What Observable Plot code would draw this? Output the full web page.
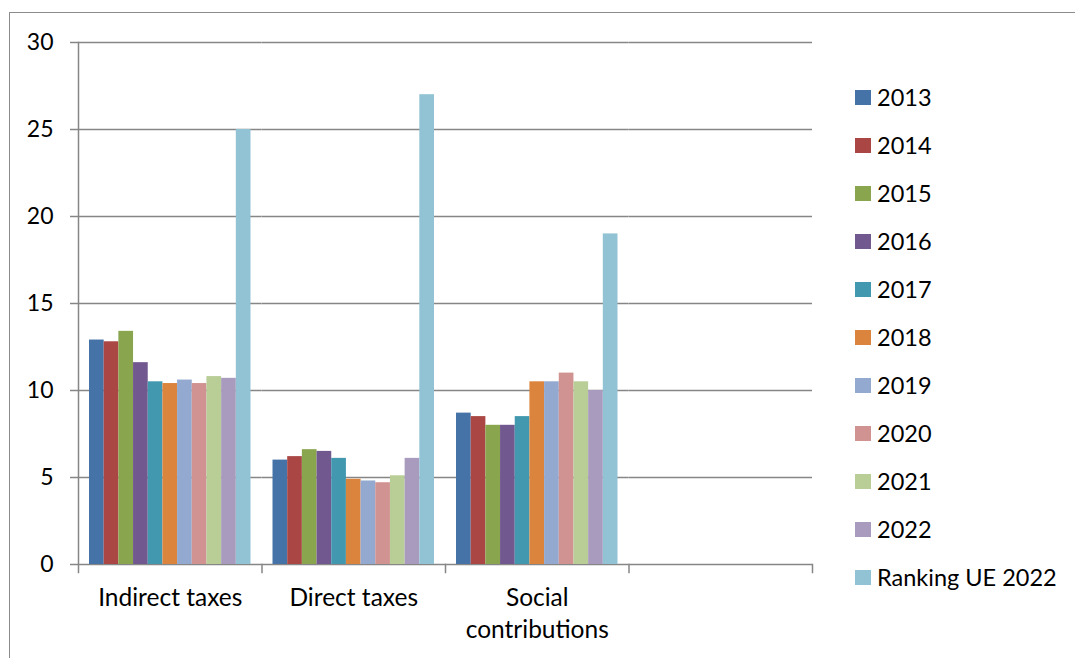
<!DOCTYPE html>
<html><head><meta charset="utf-8">
<script src="https://cdn.jsdelivr.net/npm/d3@7"></script>
<script src="https://cdn.jsdelivr.net/npm/@observablehq/plot@0.6"></script>
<style>
body{margin:0;background:#fff;}
#wrap{position:relative;width:1075px;height:658px;overflow:hidden;font-family:Lato, sans-serif;background:#fff;}
#border{position:absolute;left:9px;top:12px;width:1100px;height:700px;border-left:1.5px solid #8c8c8c;border-top:1.5px solid #8c8c8c;}
#chart{position:absolute;left:0;top:0;}
#legend{position:absolute;left:855px;top:0;}
.item{position:absolute;left:0;height:30px;display:flex;align-items:center;white-space:nowrap;font-size:23.5px;color:#000;}
.sw{width:16px;height:15px;margin-right:6px;flex:none;}
</style></head>
<body><div id="wrap"><div id="border"></div><div id="chart"></div><div id="legend"></div></div>
<script>
const categories = ["Indirect taxes", "Direct taxes", "Social contributions"];
const slots = [...categories, ""];
const series = ["2013","2014","2015","2016","2017","2018","2019","2020","2021","2022","Ranking UE 2022"];
const colors = ["#4572a7","#aa4643","#89a54e","#71588f","#4198af","#db843d","#93a9cf","#d19392","#b9cd96","#a99bbd","#92c3d5"];
const indirectTaxes = [12.9, 12.8, 13.4, 11.6, 10.5, 10.4, 10.6, 10.4, 10.8, 10.7, 25];
const directTaxes = [6.0, 6.2, 6.6, 6.5, 6.1, 4.9, 4.8, 4.7, 5.1, 6.1, 27];
const socialContributions = [8.7, 8.5, 8.0, 8.0, 8.5, 10.5, 10.5, 11.0, 10.5, 10.0, 19];
const yTicks = [0, 5, 10, 15, 20, 25, 30];
const categoryLabels = {"Indirect taxes": "Indirect taxes", "Direct taxes": "Direct taxes", "Social contributions": "Social\ncontributions", "": ""};

const valuesByCategory = [indirectTaxes, directTaxes, socialContributions];
const data = categories.flatMap((c, i) => series.map((s, j) => ({category: c, series: s, value: valuesByCategory[i][j]})));
const grid = slots.flatMap(c => yTicks.map(v => ({category: c, v})));

const GRID = "#868686";
const plot = Plot.plot({
  width: 830, height: 658,
  marginLeft: 78, marginRight: 18, marginTop: 42, marginBottom: 94,
  style: {fontFamily: "Lato, sans-serif", fontSize: "23px", color: "#000", background: "transparent"},
  fx: {domain: slots, padding: 0, round: false},
  x: {domain: series, paddingInner: 0, paddingOuter: 0.75, round: false, axis: null},
  y: {domain: [0, 30]},
  color: {domain: series, range: colors},
  marks: [
    Plot.ruleY(grid, {fx: "category", y: "v", stroke: GRID, strokeWidth: 1.5}),
    Plot.barY(data, {fx: "category", x: "series", y: "value", fill: "series"}),
    Plot.frame({anchor: "right", stroke: GRID, strokeWidth: 1.5, insetTop: 522, insetBottom: -8}),
    Plot.frame({anchor: "left", facet: "super", stroke: GRID, strokeWidth: 1.5, insetBottom: -8}),
    Plot.axisY({ticks: yTicks, tickSize: 8, tickPadding: 17, fontSize: 23, stroke: GRID, strokeWidth: 1.5, color: "#000", label: null}),
    Plot.axisFx({anchor: "bottom", tickSize: 0, tickPadding: 18, fontSize: 24.5, lineHeight: 1.33, tickFormat: d => categoryLabels[d], label: null})
  ]
});
document.getElementById("chart").appendChild(plot);

const legend = document.getElementById("legend");
series.forEach((s, k) => {
  const item = document.createElement("div");
  item.className = "item";
  item.style.top = (82 + 48 * k) + "px";
  const sw = document.createElement("div");
  sw.className = "sw";
  sw.style.background = colors[k];
  const t = document.createElement("span");
  t.textContent = s;
  item.appendChild(sw); item.appendChild(t);
  legend.appendChild(item);
});
</script>
</body></html>
